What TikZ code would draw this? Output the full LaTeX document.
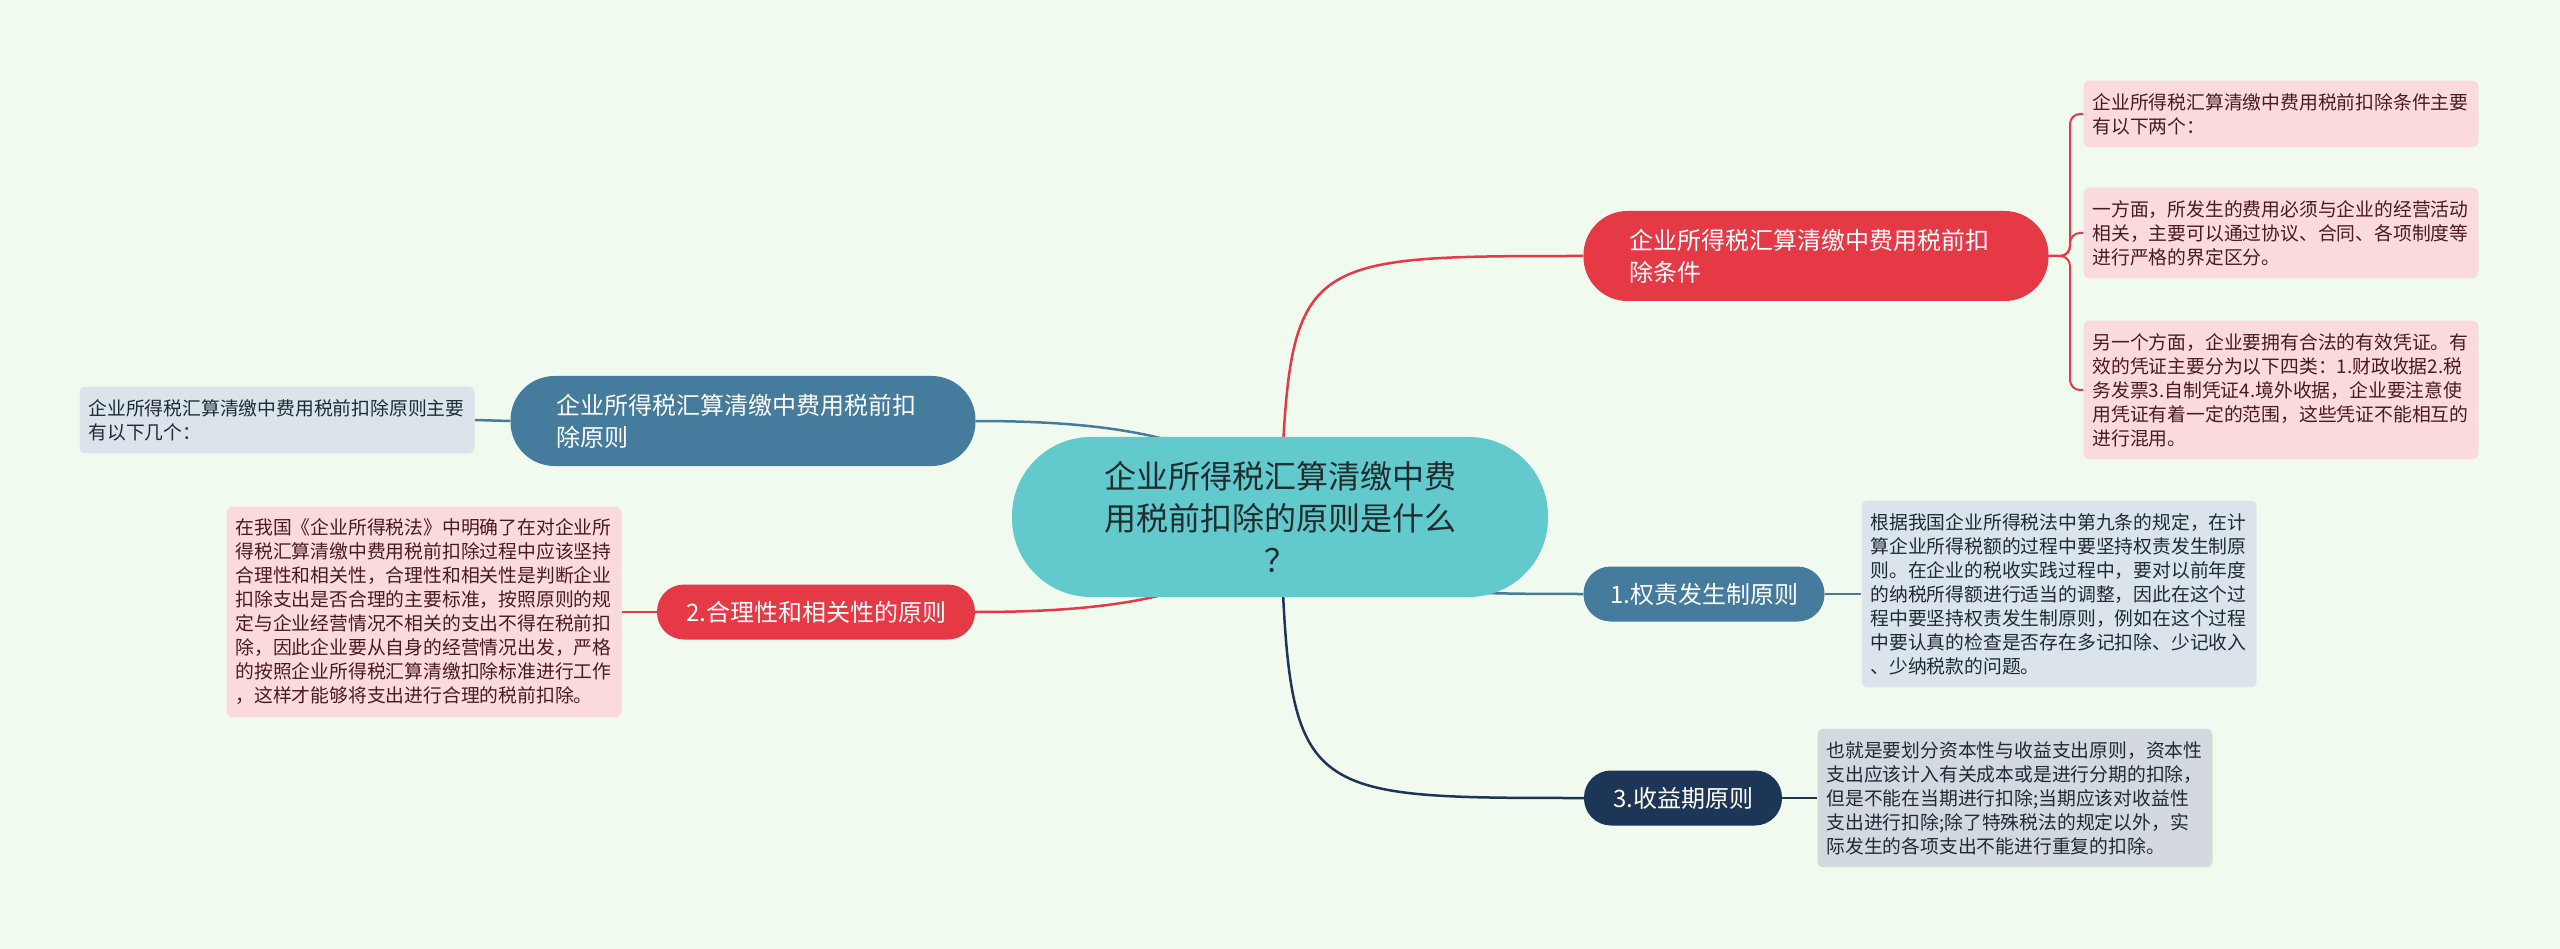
\documentclass[tikz,border=0pt]{standalone}
\usepackage{fontspec}
\newfontfamily\cjk{Noto Sans CJK SC}
\usepackage{tikz}
\usetikzlibrary{calc, backgrounds}

\definecolor{bgmint}{HTML}{F1FAEE}
\definecolor{rootteal}{HTML}{62C9CC}
\definecolor{roottext}{HTML}{1F2D2F}
\definecolor{redmain}{HTML}{E63946}
\definecolor{bluemain}{HTML}{457B9D}
\definecolor{navymain}{HTML}{1D3557}
\definecolor{pinkleaf}{HTML}{FADADD}
\definecolor{pinktext}{HTML}{4A1A1E}
\definecolor{blueleaf}{HTML}{DBE4EB}
\definecolor{navyleaf}{HTML}{D4D9DF}
\definecolor{greytext}{HTML}{1E2A36}

\begin{document}
\begin{tikzpicture}[x=1pt, y=-1pt,
    rootnode/.style={fill=rootteal, rounded corners=79pt, minimum width=536pt,
        minimum height=160pt, inner sep=0pt, align=center, text=roottext,
        font=\cjk\fontsize{32}{42}\selectfont},
    bignode/.style={rounded corners=44pt, minimum width=465pt, minimum height=90pt,
        inner sep=0pt, text width=374pt, align=left, text=white,
        font=\cjk\fontsize{24}{32}\selectfont},
    smallnode/.style={rounded corners=27pt, minimum height=55pt, inner sep=0pt,
        text=white, font=\cjk\fontsize{24}{32}\selectfont},
    leaf/.style={rounded corners=6pt, text width=377pt, inner xsep=9pt,
        inner ysep=12.5pt, align=left, text=greytext,
        font=\cjk\fontsize{18.8}{24}\selectfont},
    redline/.style={draw=redmain, line width=2.5pt},
    blueline/.style={draw=bluemain, line width=2.5pt},
    navyline/.style={draw=navymain, line width=2.5pt}]

    \coordinate (R) at (1280, 517);
    \node[rootnode] (root) at (R) {企业所得税汇算清缴中费\\用税前扣除的原则是什么\\？};

    \node[bignode, fill=redmain] (cond) at (1816, 256)
        {企业所得税汇算清缴中费用税前扣\\除条件};
    \node[bignode, fill=bluemain] (prin) at (743, 421)
        {企业所得税汇算清缴中费用税前扣\\除原则};
    \node[smallnode, fill=bluemain, minimum width=241pt] (accr) at (1704, 594)
        {1.权责发生制原则};
    \node[smallnode, fill=redmain, minimum width=318pt] (reas) at (816, 612)
        {2.合理性和相关性的原则};
    \node[smallnode, fill=navymain, minimum width=198pt] (bene) at (1683, 798)
        {3.收益期原则};

    \node[leaf, fill=pinkleaf, text=pinktext] (cond1) at (2281, 114)
        {企业所得税汇算清缴中费用税前扣除条件主要\\有以下两个：};
    \node[leaf, fill=pinkleaf, text=pinktext] (cond2) at (2281, 233)
        {一方面，所发生的费用必须与企业的经营活动\\相关，主要可以通过协议、合同、各项制度等\\进行严格的界定区分。};
    \node[leaf, fill=pinkleaf, text=pinktext] (cond3) at (2281, 390)
        {另一个方面，企业要拥有合法的有效凭证。有\\效的凭证主要分为以下四类：1.财政收据2.税\\务发票3.自制凭证4.境外收据，企业要注意使\\用凭证有着一定的范围，这些凭证不能相互的\\进行混用。};
    \node[leaf, fill=blueleaf] (prin1) at (277, 420)
        {企业所得税汇算清缴中费用税前扣除原则主要\\有以下几个：};
    \node[leaf, fill=blueleaf] (accr1) at (2059, 594)
        {根据我国企业所得税法中第九条的规定，在计\\算企业所得税额的过程中要坚持权责发生制原\\则。在企业的税收实践过程中，要对以前年度\\的纳税所得额进行适当的调整，因此在这个过\\程中要坚持权责发生制原则，例如在这个过程\\中要认真的检查是否存在多记扣除、少记收入\\、少纳税款的问题。};
    \node[leaf, fill=pinkleaf, text=pinktext] (reas1) at (424, 612)
        {在我国《企业所得税法》中明确了在对企业所\\得税汇算清缴中费用税前扣除过程中应该坚持\\合理性和相关性，合理性和相关性是判断企业\\扣除支出是否合理的主要标准，按照原则的规\\定与企业经营情况不相关的支出不得在税前扣\\除，因此企业要从自身的经营情况出发，严格\\的按照企业所得税汇算清缴扣除标准进行工作\\，这样才能够将支出进行合理的税前扣除。};
    \node[leaf, fill=navyleaf] (bene1) at (2015, 798)
        {也就是要划分资本性与收益支出原则，资本性\\支出应该计入有关成本或是进行分期的扣除，\\但是不能在当期进行扣除;当期应该对收益性\\支出进行扣除;除了特殊税法的规定以外，实\\际发生的各项支出不能进行重复的扣除。};

    \begin{pgfonlayer}{background}
        \fill[bgmint] (0, 0) rectangle (2560, 949);

        \draw[redline] (root.center) .. controls (1290, 256) .. (cond.west);
        \draw[blueline] (root.center) .. controls (1240, 434) and (1100, 421) .. (prin.east);
        \draw[blueline] (root.center) .. controls (1330, 590) and (1400, 594) .. (accr.west);
        \draw[redline] (root.center) .. controls (1240, 600) and (1100, 612) .. (reas.east);
        \draw[navyline] (root.center) .. controls (1290, 798) .. (bene.west);

        \coordinate (fork) at (2070, 256);
        \draw[redline, line width=2pt, rounded corners=10pt] (cond.east) -- (fork) |- (cond1.west);
        \draw[redline, line width=2pt, rounded corners=10pt] (cond.east) -- (fork) |- (cond2.west);
        \draw[redline, line width=2pt, rounded corners=10pt] (cond.east) -- (fork) |- (cond3.west);

        \draw[blueline] (prin.west) -- (prin1.east);
        \draw[blueline] (accr.east) -- (accr1.west);
        \draw[redline] (reas.west) -- (reas1.east);
        \draw[navyline] (bene.east) -- (bene1.west);
    \end{pgfonlayer}
\end{tikzpicture}
\end{document}
